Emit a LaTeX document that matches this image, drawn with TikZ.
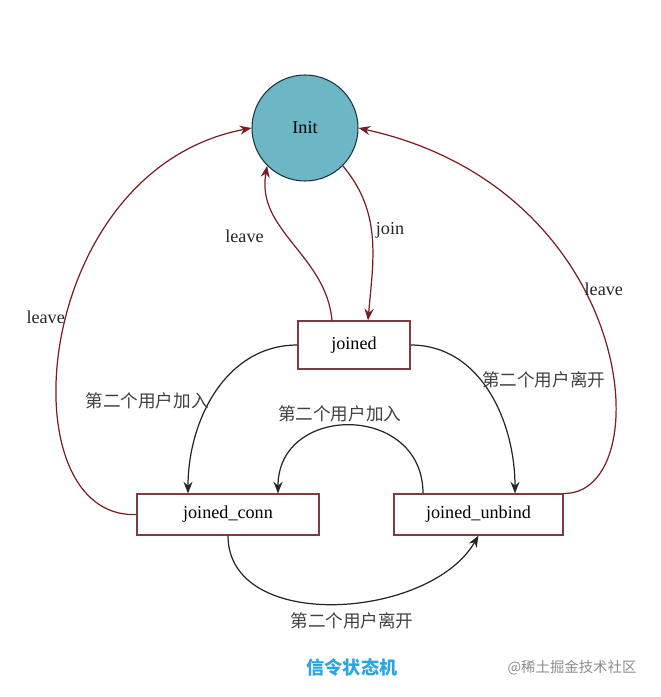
\documentclass[tikz,border=0pt]{standalone}
\usepackage{fontspec}
\setmainfont{Liberation Serif}
\newfontfamily\cjk{Noto Sans CJK SC}
\usepackage{xcolor}
\usepackage{tikz}
\usetikzlibrary{positioning, arrows.meta, calc}
\definecolor{leavered}{HTML}{7A1E26}
\definecolor{boxred}{HTML}{7D3B42}
\definecolor{initfill}{HTML}{6DB6C6}
\definecolor{initline}{HTML}{1E3440}
\definecolor{capblue}{HTML}{2AA5E3}
\tikzstyle{ini}=[%
      circle, draw=initline, line width=0.9pt, fill=initfill,
      minimum size=3.18cm, inner sep=0pt, font=\fontsize{15.5}{18}\selectfont
]
\tikzstyle{box}=[%
      rectangle, draw=boxred, line width=0.9pt, fill=white,
      minimum height=1.23cm, inner sep=0pt, font=\fontsize{15.5}{18}\selectfont
]
\tikzstyle{lv}=[%
      draw=leavered, line width=1.05pt, -{Stealth[length=3.5mm,width=2.7mm]}
]
\tikzstyle{tr}=[%
      draw=black!85, line width=1.05pt, -{Stealth[length=3.5mm,width=2.7mm]}
]
\tikzstyle{lbl}=[%
      text=black!85, font=\fontsize{15.5}{18}\selectfont
]
\tikzstyle{cn}=[%
      text=black!75, inner sep=1pt, font=\cjk\fontsize{15}{18}\selectfont
]

\begin{document}
\begin{tikzpicture}[x=0.03cm, y=-0.03cm]
    \useasboundingbox (0,0) rectangle (660,697);

    \node[ini] (init)                        at (305,128)   {Init};
    \node[box, minimum width=3.36cm, minimum height=1.44cm]
               (joined)                      at (354,345)   {joined};
    \node[box, minimum width=5.46cm] (conn)   at (228,514.5) {joined\_conn};
    \node[box, minimum width=5.07cm] (unbind) at (478.5,514.5) {joined\_unbind};

    % init <-> joined
    \draw[lv] (init.-45) to[out=-50, in=85]
        node[lbl, pos=.45, right] {join} ($(joined.north)+(14,0)$);
    \draw[lv] ($(joined.north)+(-22,0)$) to[out=95, in=-100]
        node[lbl, pos=.55, left=6mm] {leave} (init.-135);

    % back to init
    \draw[lv] (conn.west) .. controls (5,520) and (30,170) ..
        node[lbl, pos=.54, left, inner sep=1pt] {leave} (init.west);
    \draw[lv] (unbind.north east) .. controls (660,495) and (640,190) ..
        node[lbl, pos=.59, right, inner sep=1pt] {leave} (init.east);

    % joined -> conn / unbind
    \draw[tr] (joined.west) to[out=180, in=90]
        node[cn, pos=.55, left] {第二个用户加入} ($(conn.north)+(-40,0)$);
    \draw[tr] (joined.east) to[out=0, in=90]
        node[cn, pos=.42, right] {第二个用户离开} ($(unbind.north)+(36.5,0)$);

    % conn <-> unbind
    \draw[tr] ($(unbind.north)+(-55.5,0)$) to[out=90, in=90, looseness=1.6]
        node[cn, pos=.55, above=2pt] {第二个用户加入} ($(conn.north)+(50,0)$);
    \draw[tr] (conn.south) to[out=-90, in=-120]
        node[cn, pos=.55, below=7pt] {第二个用户离开} (unbind.south);

    \node[text=capblue, font=\cjk\bfseries\fontsize{15.5}{18}\selectfont] (title) at (352,668) {信令状态机};
    \node[text=black!45, font=\cjk\fontsize{12.3}{14}\selectfont] (mark) at (572,668) {@稀土掘金技术社区};
\end{tikzpicture}
\end{document}
